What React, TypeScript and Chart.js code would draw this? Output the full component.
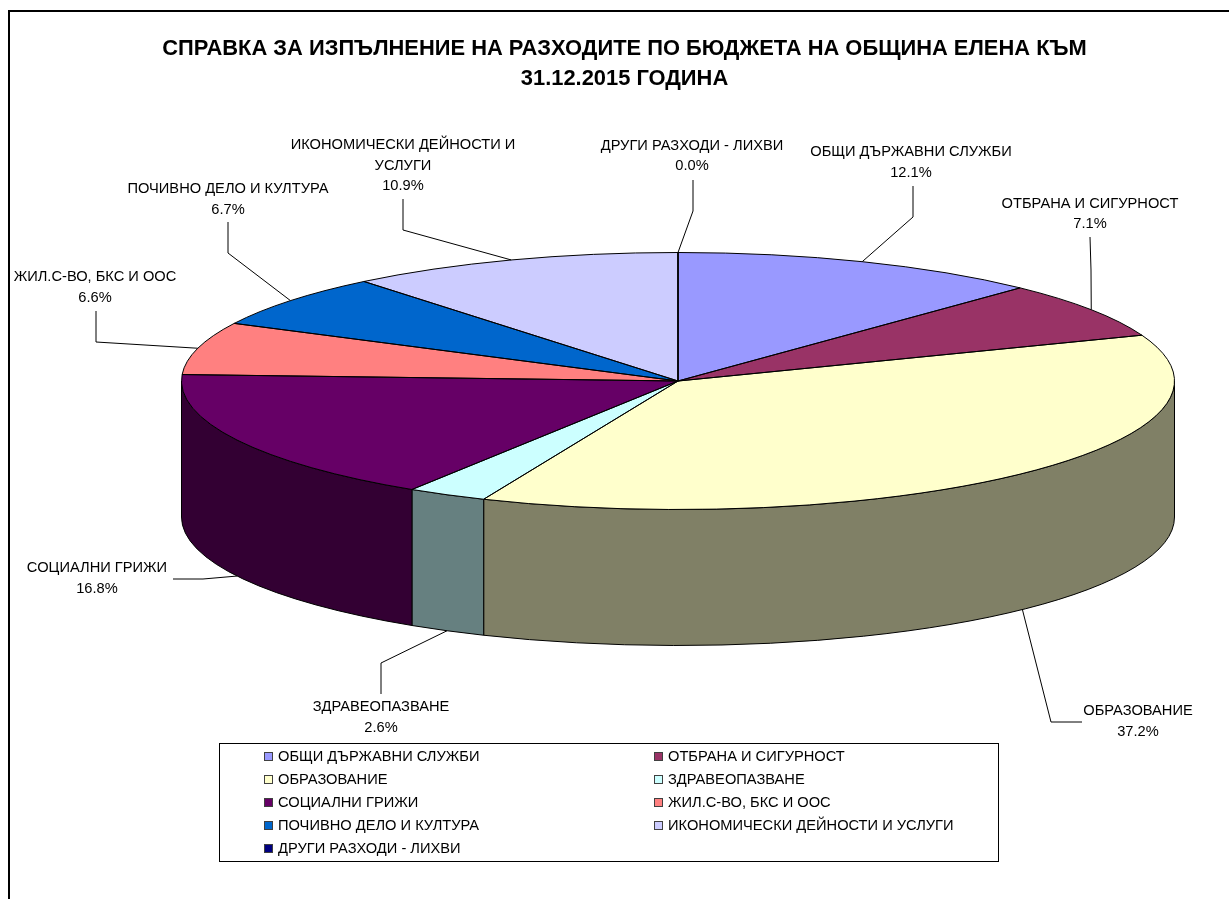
import React, { useEffect, useRef } from "react";
import { Chart, registerables } from "chart.js";

Chart.register(...registerables);

const titleLines = ["СПРАВКА ЗА ИЗПЪЛНЕНИЕ НА РАЗХОДИТЕ ПО БЮДЖЕТА НА ОБЩИНА ЕЛЕНА КЪМ", "31.12.2015 ГОДИНА"];
const categories = ["ОБЩИ ДЪРЖАВНИ СЛУЖБИ", "ОТБРАНА И СИГУРНОСТ", "ОБРАЗОВАНИЕ", "ЗДРАВЕОПАЗВАНЕ", "СОЦИАЛНИ ГРИЖИ", "ЖИЛ.С-ВО, БКС И ООС", "ПОЧИВНО ДЕЛО И КУЛТУРА", "ИКОНОМИЧЕСКИ ДЕЙНОСТИ И УСЛУГИ", "ДРУГИ РАЗХОДИ - ЛИХВИ"];
const shares = [12.1, 7.1, 37.2, 2.6, 16.8, 6.6, 6.7, 10.9, 0.0];
const topColors = ["#9999FF", "#993366", "#FFFFCC", "#CCFFFF", "#660066", "#FF8080", "#0066CC", "#CCCCFF", "#000080"];
const wallColors = ["#4D4D80", "#4D1A33", "#808066", "#668080", "#330033", "#804040", "#003366", "#666680", "#000040"];

const RADIUS = 496.5;
const SQUASH = 128.5 / 496.5;
const DEPTH = 136;
const FONT = '"Liberation Sans", Arial, sans-serif';

// label layout: wrapped lines, centre x, first-line y, leader elbow points (from label to pie)
const labelLines = [["ОБЩИ ДЪРЖАВНИ СЛУЖБИ"], ["ОТБРАНА И СИГУРНОСТ"], ["ОБРАЗОВАНИЕ"], ["ЗДРАВЕОПАЗВАНЕ"], ["СОЦИАЛНИ ГРИЖИ"], ["ЖИЛ.С-ВО, БКС И ООС"], ["ПОЧИВНО ДЕЛО И КУЛТУРА"], ["ИКОНОМИЧЕСКИ ДЕЙНОСТИ И", "УСЛУГИ"], ["ДРУГИ РАЗХОДИ - ЛИХВИ"]];
const labelX = [911, 1090, 1138, 381, 97, 95, 228, 403, 692];
const labelY = [152, 203.5, 711, 707, 568, 277, 189, 145, 145.5];
const leaderPts: number[][][] = [
  [[913, 186], [913, 217]],
  [[1090, 237], [1091, 270]],
  [[1082, 722], [1051, 722]],
  [[381, 694], [381, 663]],
  [[173, 579], [203, 579]],
  [[96, 311], [96, 342]],
  [[228, 222], [228, 253]],
  [[403, 199], [403, 230]],
  [[693, 180], [693, 211]],
];

function line(ctx: CanvasRenderingContext2D, pts: number[][]) {
  ctx.beginPath();
  pts.forEach((p, i) => (i ? ctx.lineTo(p[0], p[1]) : ctx.moveTo(p[0], p[1])));
  ctx.stroke();
}

const pie3d = {
  id: "pie3d",
  beforeDatasetsDraw(chart: any) {
    const ctx: CanvasRenderingContext2D = chart.ctx;
    const arcs = chart.getDatasetMeta(0).data;
    const { x: cx, y: cy } = arcs[0];
    const ry = RADIUS * SQUASH;
    ctx.save();
    ctx.strokeStyle = "#000";
    ctx.lineWidth = 1;
    arcs.forEach((arc: any, i: number) => {
      // the part of the rim that faces the viewer: angles 0..PI
      const s = Math.max(arc.startAngle, 0);
      const e = Math.min(arc.endAngle, Math.PI);
      if (e <= s) return;
      ctx.beginPath();
      ctx.ellipse(cx, cy, RADIUS, ry, 0, s, e, false);
      ctx.ellipse(cx, cy + DEPTH, RADIUS, ry, 0, e, s, true);
      ctx.closePath();
      ctx.fillStyle = wallColors[i];
      ctx.fill();
      ctx.stroke();
    });
    ctx.restore();
    // the library draws the slices on a squashed plane
    ctx.save();
    ctx.translate(cx, cy);
    ctx.scale(1, SQUASH);
    ctx.translate(-cx, -cy);
  },
  afterDatasetsDraw(chart: any) {
    const ctx: CanvasRenderingContext2D = chart.ctx;
    ctx.restore();
    const arcs = chart.getDatasetMeta(0).data;
    const { x: cx, y: cy } = arcs[0];
    const ry = RADIUS * SQUASH;

    // frame
    ctx.save();
    ctx.strokeStyle = "#000";
    ctx.lineWidth = 2;
    line(ctx, [[9, 899], [9, 11], [1229, 11]]);

    // slice outlines
    ctx.lineWidth = 1;
    arcs.forEach((arc: any) => {
      ctx.beginPath();
      ctx.moveTo(cx, cy);
      ctx.ellipse(cx, cy, RADIUS, ry, 0, arc.startAngle, arc.endAngle, false);
      ctx.closePath();
      ctx.stroke();
    });

    // title
    ctx.fillStyle = "#000";
    ctx.textAlign = "center";
    ctx.textBaseline = "middle";
    ctx.font = `bold 21.9px ${FONT}`;
    titleLines.forEach((t, i) => ctx.fillText(t, 624.5, 49.3 + i * 29.7));

    // data labels and leaders
    ctx.font = `14.67px ${FONT}`;
    arcs.forEach((arc: any, i: number) => {
      const mid = (arc.startAngle + arc.endAngle) / 2;
      const ax = cx + RADIUS * Math.cos(mid);
      let ay = cy + ry * Math.sin(mid);
      if (Math.sin(mid) > 0) ay += DEPTH;
      line(ctx, [...leaderPts[i], [ax, ay]]);
      const lines = [...labelLines[i], shares[i].toFixed(1) + "%"];
      lines.forEach((t, j) => ctx.fillText(t, labelX[i], labelY[i] + j * 20.5));
    });

    // legend
    ctx.fillStyle = "#fff";
    ctx.fillRect(219, 743, 780, 119);
    ctx.strokeStyle = "#000";
    ctx.strokeRect(219.5, 743.5, 779, 118);
    ctx.textAlign = "left";
    categories.forEach((c, i) => {
      const col = i % 2;
      const row = Math.floor(i / 2);
      const sx = col ? 654 : 264;
      const y = 756.5 + row * 23.2;
      ctx.fillStyle = topColors[i];
      ctx.fillRect(sx + 0.5, Math.round(y) - 4.5, 8, 8);
      ctx.strokeStyle = "#404040";
      ctx.strokeRect(sx + 0.5, Math.round(y) - 4.5, 8, 8);
      ctx.fillStyle = "#000";
      ctx.fillText(c, sx + 14, y);
    });
    ctx.restore();
  },
};

export default function App() {
  const ref = useRef<HTMLCanvasElement>(null);
  useEffect(() => {
    document.body.style.margin = "0";
    const chart = new Chart(ref.current!, {
      type: "pie",
      data: {
        labels: categories,
        datasets: [{ data: shares, backgroundColor: topColors, borderWidth: 0, radius: RADIUS, clip: false } as any],
      },
      options: {
        animation: false,
        responsive: false,
        devicePixelRatio: 1,
        rotation: 0,
        layout: { padding: { left: 127, right: 0, top: 0, bottom: 137 } },
        events: [],
        plugins: { legend: { display: false }, tooltip: { enabled: false }, title: { display: false } },
      },
      plugins: [pie3d],
    });
    return () => chart.destroy();
  }, []);
  return <canvas ref={ref} width={1229} height={899} style={{ display: "block", width: 1229, height: 899 }} />;
}
